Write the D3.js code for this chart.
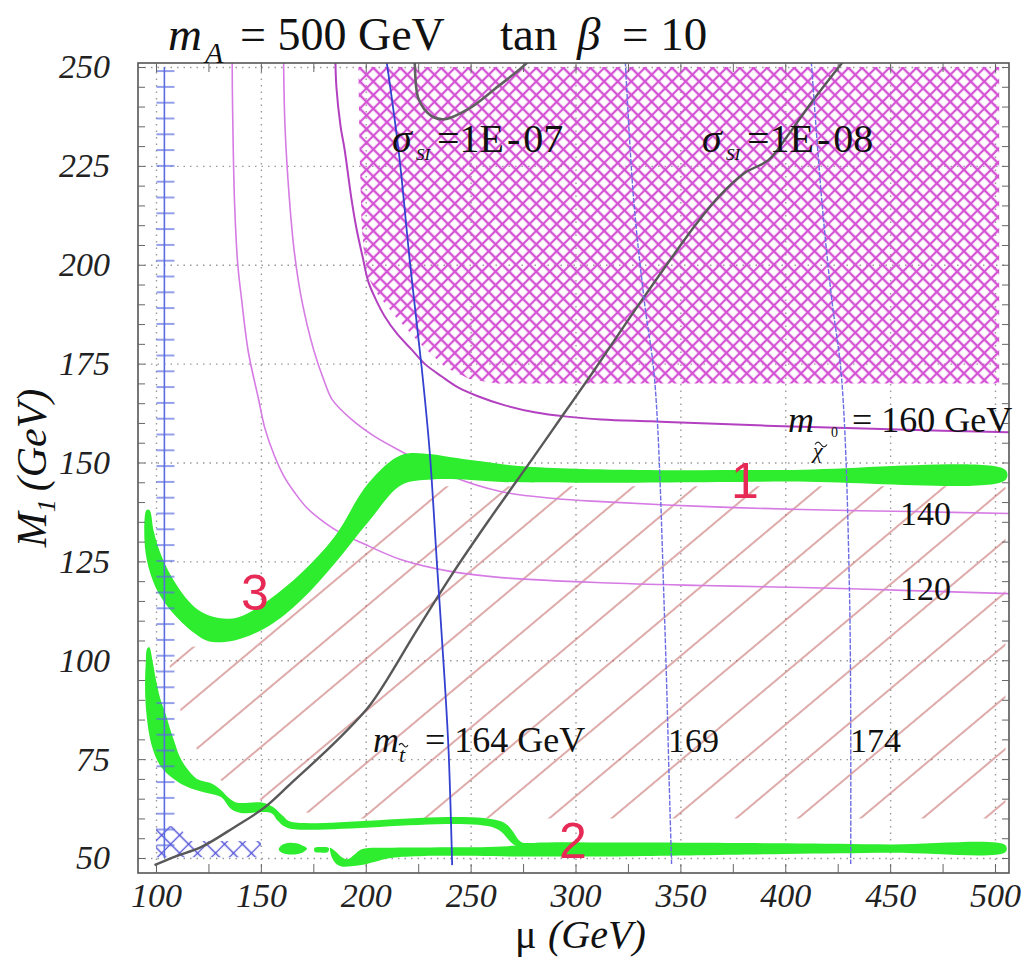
<!DOCTYPE html>
<html>
<head>
<meta charset="utf-8">
<script src="https://cdn.jsdelivr.net/npm/d3@7"></script>
<style>
body { margin: 0; background: #fff; }
</style>
</head>
<body>
<div id="chart"></div>
<script>
////////////////////////////////////////////////////////////////////////
// data, all in (mu, M1) GeV

let xTicks = [100, 150, 200, 250, 300, 350, 400, 450, 500];
let yTicks = [50, 75, 100, 125, 150, 175, 200, 225, 250];

// neutralino mass contours (120, 140, 160 GeV)
let chi120 = [[136.3,253],[136.5,240],[137.5,215],[139,200],[140.8,191.3],[144,178],[148.9,166],[152,158.5],
  [156.6,151.5],[161,146.5],[166.1,142.4],[172,138.5],[180.4,134.8],[188,132.2],[198,129.7],[217,125.4],
  [240.9,122.4],[264.7,120.9],[312.4,119.6],[360,118.9],[407.8,118.4],[460,117.6],[509,116.8]];
let chi140 = [[160.8,253],[161.5,235],[163.6,216.6],[166,203],[169.4,191.3],[175.1,178.6],[180.4,170.3],
  [184,165.9],[193.2,160.9],[204.2,156.6],[217,152.8],[240.9,146.5],[264.7,142.6],[290,140.9],[312.4,140.1],
  [360.1,138.9],[407.8,138.1],[460,137.6],[509,137.1]];
let chi160 = [[185.5,253],[186,245],[188,235],[189.9,229.2],[193.2,216.6],[195.6,209.1],[198.5,202],[201.3,195.6],
  [205,191],[209,187],[215,182.5],[221.8,178.6],[228,175],[236.1,171.8],[244,169],[253.8,166.7],[266,164.5],
  [280.5,162.7],[296,161.6],[312.4,160.9],[336,160.4],[360.1,159.9],[403,159.1],[450,158.4],[509,157.6]];

// stop mass contours (164, 169, 174 GeV)
let stop164 = [[209.5,253],[215.6,229.2],[221,201],[226.6,174.3],[230.4,153.3],[234,124],[237.6,95.1],[239.5,77],[241.2,48.2]];
let stop169 = [[323.6,253],[327.7,216.6],[333,190],[337.7,171.1],[342.5,110.2],[344.9,64.7],[345.8,48.5]];
let stop174 = [[412.2,253],[417.4,216.4],[422,192],[426.9,171.1],[430.7,115.3],[431.2,48.5]];

// sigma_SI contours
let sigma8 = [[99.3,48.2],[108.8,50.3],[121.7,52.8],[137.4,57.8],[151.3,62.6],[164.6,69],[185.1,79.1],[201.3,88.2],
  [210,95],[223,106.4],[241,121.6],[259.5,136],[279,150.6],[294,162],[309,173.4],[330,189.8],
  [358,210.6],[369,217.6],[380.6,223.2],[392.1,226.5],[400.7,232.3],[412.6,241.1],[430,253]];
let sigma7 = [[223,253],[223.3,251.3],[225.2,241.9],[231.4,237.6],[237.6,236.8],[249,239.4],[261.4,244.4],[277.6,251.5],[279,253]];

// green band 3 -> 1: convex side, then concave side (tip to right end)
let bandAOuter = [[95.5,138],[94.5,130.4],[96.4,123.6],[101.2,117],[108.8,111.5],[118.4,106.8],[125,104.8],
  [137.4,105],[153.6,108.6],[169.4,115.3],[185.1,124.4],[201.3,135],[217,144.3],[231.4,145.7],[250,145.6],
  [265,145.1],[300,144.9],[400,145.2],[505,145.6]];
let bandAInner = [[96.9,138],[98.8,132.9],[101.2,128.4],[104.5,124.1],[109.3,119.5],[115.5,115],[121.7,112.2],
  [129.8,110.7],[139.3,110.9],[153.6,115.2],[169.4,122.1],[185.1,131.2],[201.3,144.8],[217,151.9],[231.4,152.1],
  [240,151.4],[255,150.3],[273,149.1],[300,148.4],[330,148.1],[400,148.1],[505,148.1]];

// band 2, upper branch edges
let bandBRight = [[96.8,103.3],[98.3,100],[100,95],[102.2,90],[104.4,86.7],[106.5,83],[108.7,79.5],[111,76],
  [114.5,72.8],[119.5,70],[125.7,69],[130.5,67.4],[135.2,65],[138.6,64],[151,64],[155.8,62.9],[160.6,60.6],
  [164,59.2],[264.8,59.2],[274.3,54],[280,53.6]];
let bandBLeft = [[95.8,103],[95.1,99],[94.8,95],[94.9,90.5],[95.4,86.7],[96.5,82],[98.2,78],[100.5,74.8],
  [103.5,72.3],[110.5,69.2],[116.7,67.6],[124.8,66.4],[131,65.4],[135.8,62.4],[140.5,61.4],[154.8,61.4],
  [158.1,59.4],[162.8,57.6],[261.4,57.6],[270.9,53.3],[280,52.3]];

// band 2, lower pieces near M1 = 50
let blob1 = [[158.5,52.2],[160,53.3],[163,53.8],[167,53.7],[170,53.1],[172,52.4],[170,51.4],[166,50.9],[162,51],[159.5,51.5]];
let blob2 = [[175.6,52.6],[179,52.8],[182.3,52.6],[182,51.5],[178,51.4],[175.6,51.6]];
let bandCUpper = [[183,52.6],[185.5,51.7],[188.6,50.2],[191.5,49.7],[194.5,50.8],[198,52.2],[210,52.6],[240,52.7],
  [268,53],[280,53.8],[320,53.9],[400,53.7],[450,53.4],[505,53.2]];
let bandCLower = [[183,51.8],[184,50],[186,48.5],[189,47.8],[193,47.9],[198,48.2],[204,49],[212,50],[228,50.5],
  [270,50.4],[320,50.4],[400,51],[450,51.3],[505,51.5]];

// hatched regions
let redHatchRegion = [[106.5,97],[107,103.3],[120,103.5],[128,103],[137,103.4],[146,105.6],[154,107.8],[162,110.8],
  [170,114.3],[178,118.3],[185,122.6],[193,128],[201,133],[209,138],[217,142.3],[226,144],[240,144],
  [505,144],[505,60],[184,60],[162,62.8],[139,66.5],[125,72],[114,83]];
let pinkHatchRegion = [[196.5,250],[502,250],[502,170],[263,170],[250,171],[238,174],[226,180],[214,187],
  [205,193],[201,197],[199,204],[198,210],[197,230]];
let blueXRegion = [[100,50.2],[100,58],[111,58],[116,54.3],[150,54.3],[150,50.2]];
let lepStrip = {mu: 104, lo: 100.2, hi: 108.8, m1: [50, 250]};

////////////////////////////////////////////////////////////////////////
// svg and scales

let width = 1036, height = 962;
let frame = {left: 138, right: 1009, top: 63, bottom: 873};
let serif = "Liberation Serif";

let svg = d3.select("#chart").append("svg")
  .attr("width", width).attr("height", height)
  .attr("font-family", serif);

svg.append("rect").attr("width", width).attr("height", height).attr("fill", "#fff");

let x = d3.scaleLinear().domain([100, 500]).range([156, 995]);
let y = d3.scaleLinear().domain([50, 250]).range([858, 67]);

let line = d3.line().x(d => x(d[0])).y(d => y(d[1])).curve(d3.curveCatmullRom.alpha(0.5));
let poly = d3.line().x(d => x(d[0])).y(d => y(d[1]));
let smoothPoly = d3.line().x(d => x(d[0])).y(d => y(d[1])).curve(d3.curveCatmullRomClosed.alpha(0.5));

let defs = svg.append("defs");
defs.append("clipPath").attr("id", "frameClip")
  .append("rect")
  .attr("x", frame.left).attr("y", frame.top)
  .attr("width", frame.right - frame.left).attr("height", frame.bottom - frame.top);

// grid-like patterns rotated for the hatchings
function gridPattern(id, size, angle, color, w) {
  defs.append("pattern").attr("id", id)
    .attr("patternUnits", "userSpaceOnUse")
    .attr("width", size).attr("height", size)
    .attr("patternTransform", "rotate(" + angle + ")")
    .append("path")
    .attr("d", "M0," + size / 2 + "H" + size + "M" + size / 2 + ",0V" + size)
    .attr("stroke", color).attr("stroke-width", w).attr("fill", "none");
}
gridPattern("pinkX", 9.6, 45, "#d452d4", 2.2);
gridPattern("blueX", 12.7, 45, "#5050d8", 1.3);

defs.append("pattern").attr("id", "redHatch")
  .attr("patternUnits", "userSpaceOnUse")
  .attr("width", 10).attr("height", 40)
  .attr("patternTransform", "rotate(-40)")
  .append("path").attr("d", "M0,20H10")
  .attr("stroke", "#bd5555").attr("stroke-width", 1);

defs.append("pattern").attr("id", "lepTicks")
  .attr("patternUnits", "userSpaceOnUse")
  .attr("width", 20).attr("height", 15.8)
  .append("path").attr("d", "M0,7.9H20")
  .attr("stroke", "#5b6be0").attr("stroke-width", 1.3);

let plot = svg.append("g").attr("clip-path", "url(#frameClip)");

////////////////////////////////////////////////////////////////////////
// grid lines

let gridX = plot.append("g")
  .attr("transform", "translate(0," + frame.bottom + ")")
  .call(d3.axisBottom(x).tickValues(xTicks).tickSize(-(frame.bottom - frame.top)).tickFormat(""));
let gridY = plot.append("g")
  .attr("transform", "translate(" + frame.left + ",0)")
  .call(d3.axisLeft(y).tickValues(yTicks).tickSize(-(frame.right - frame.left)).tickFormat(""));
[gridX, gridY].forEach(function(g) {
  g.select(".domain").remove();
  g.selectAll("line").attr("stroke", "#9a9a9a").attr("stroke-width", 1.4).attr("stroke-dasharray", "1.5,5");
});

////////////////////////////////////////////////////////////////////////
// hatched regions

plot.append("path").attr("d", poly(redHatchRegion) + "Z").attr("fill", "url(#redHatch)");
plot.append("path").attr("d", poly(pinkHatchRegion) + "Z").attr("fill", "url(#pinkX)");
plot.append("path").attr("d", poly(blueXRegion) + "Z").attr("fill", "url(#blueX)");

// neutralino mass contours
plot.selectAll(".chi")
  .data([chi120, chi140, chi160]).enter()
  .append("path").attr("class", "chi")
  .attr("d", line).attr("fill", "none")
  .attr("stroke", (d, i) => i === 2 ? "#b240c0" : "#d67be4")
  .attr("stroke-width", (d, i) => i === 2 ? 2 : 1.6);

// green bands
let green = "#2eec2e";
plot.append("path").attr("d", smoothPoly(bandAOuter.concat(bandAInner.slice().reverse()))).attr("fill", green);
plot.append("path").attr("d", smoothPoly(bandBRight.concat(bandBLeft.slice().reverse()))).attr("fill", green);
plot.append("path").attr("d", smoothPoly(bandCUpper.concat(bandCLower.slice().reverse()))).attr("fill", green);
plot.append("path").attr("d", smoothPoly(blob1)).attr("fill", green);
plot.append("path").attr("d", smoothPoly(blob2)).attr("fill", green);

// sigma_SI contours
plot.append("path").attr("d", line(sigma8)).attr("fill", "none")
  .attr("stroke", "#585858").attr("stroke-width", 2.4);
plot.append("path").attr("d", line(sigma7)).attr("fill", "none")
  .attr("stroke", "#606060").attr("stroke-width", 2.6);

// stop mass contours
plot.append("path").attr("d", line(stop164)).attr("fill", "none")
  .attr("stroke", "#3340d0").attr("stroke-width", 1.8);
plot.selectAll(".stopLight")
  .data([stop169, stop174]).enter()
  .append("path").attr("class", "stopLight")
  .attr("d", line).attr("fill", "none")
  .attr("stroke", "#6c6ce6").attr("stroke-width", 1.4).attr("stroke-dasharray", "5,1.5");

// LEP chargino strip with cross ticks
plot.append("rect")
  .attr("x", x(lepStrip.lo)).attr("width", x(lepStrip.hi) - x(lepStrip.lo))
  .attr("y", y(lepStrip.m1[1])).attr("height", y(lepStrip.m1[0]) - y(lepStrip.m1[1]))
  .attr("fill", "url(#lepTicks)");
plot.append("line")
  .attr("x1", x(lepStrip.mu)).attr("x2", x(lepStrip.mu))
  .attr("y1", y(lepStrip.m1[1])).attr("y2", y(lepStrip.m1[0]))
  .attr("stroke", "#5b6be0").attr("stroke-width", 1.6);

////////////////////////////////////////////////////////////////////////
// frame, ticks and labels

svg.append("rect")
  .attr("x", frame.left).attr("y", frame.top)
  .attr("width", frame.right - frame.left).attr("height", frame.bottom - frame.top)
  .attr("fill", "none").attr("stroke", "#555").attr("stroke-width", 1.6);

let xMinor = d3.range(100, 501, 25);
let yMinor = d3.range(50, 251, 5);
let tickGroups = [
  svg.append("g").attr("transform", "translate(0," + frame.bottom + ")")
    .call(d3.axisBottom(x).tickValues(xMinor).tickSize(-9).tickFormat("")),
  svg.append("g").attr("transform", "translate(0," + frame.top + ")")
    .call(d3.axisTop(x).tickValues(xMinor).tickSize(-9).tickFormat("")),
  svg.append("g").attr("transform", "translate(" + frame.left + ",0)")
    .call(d3.axisLeft(y).tickValues(yMinor).tickSize(-7).tickFormat("")),
  svg.append("g").attr("transform", "translate(" + frame.right + ",0)")
    .call(d3.axisRight(y).tickValues(yMinor).tickSize(-7).tickFormat(""))
];
tickGroups.forEach(function(g) {
  g.select(".domain").remove();
  g.selectAll("line").attr("stroke", "#666").attr("stroke-width", 1);
});

let xLabels = svg.append("g").attr("transform", "translate(0," + frame.bottom + ")")
  .call(d3.axisBottom(x).tickValues(xTicks).tickSize(0).tickPadding(10));
let yLabels = svg.append("g").attr("transform", "translate(" + frame.left + ",0)")
  .call(d3.axisLeft(y).tickValues(yTicks).tickSize(0).tickPadding(28));
[xLabels, yLabels].forEach(function(g) {
  g.select(".domain").remove();
  g.attr("font-family", serif).attr("font-size", null);
  g.selectAll("text").attr("font-size", 34).attr("font-style", "italic").attr("fill", "#222");
});

// helper for positioned text pieces
function txt(px, py, s, size, italic, anchor) {
  return svg.append("text").attr("x", px).attr("y", py)
    .attr("font-family", serif)
    .attr("font-size", size)
    .attr("font-style", italic ? "italic" : "normal")
    .attr("text-anchor", anchor || "start")
    .attr("fill", "#111")
    .text(s);
}
// small tilde accent drawn as a path
function tilde(px, py, w) {
  let h = w / 4;
  svg.append("path")
    .attr("d", "M" + px + "," + (py + h / 2) + "q" + (w / 4) + "," + (-h * 1.6) + " " + (w / 2) + ",0" +
               "t" + (w / 2) + ",0")
    .attr("fill", "none").attr("stroke", "#222").attr("stroke-width", 1.1);
}

// title
txt(168, 50, "m", 47, true);
txt(205, 63, "A", 30, true);
txt(240, 50, "= 500 GeV", 46, false);
txt(500, 50, "tan", 47, false);
txt(577, 50, "\u03b2", 47, true);
txt(622, 50, "= 10", 47, false);

// axis titles
let yt = svg.append("text")
  .attr("transform", "translate(46,468) rotate(-90)")
  .attr("font-family", serif)
  .attr("text-anchor", "middle").attr("font-size", 42).attr("font-style", "italic").attr("fill", "#111");
yt.append("tspan").text("M");
yt.append("tspan").attr("font-size", 26).attr("dy", 9).text("1");
yt.append("tspan").attr("dy", -9).attr("dx", 8).text("(GeV)");

let xt = svg.append("text").attr("y", 948).attr("font-size", 40)
  .attr("font-family", serif).attr("fill", "#111");
xt.append("tspan").attr("x", 515).text("\u03bc");
xt.append("tspan").attr("x", 548).attr("font-style", "italic").text("(GeV)");

// sigma labels
function sigmaLabel(px, val) {
  txt(px, 152, "\u03c3", 40, true);
  txt(px + 24, 160, "SI", 17, true);
  let t = txt(px + 45, 152, "=1E", 40, false);
  t.append("tspan").attr("dx", 3).text("-");
  t.append("tspan").attr("dx", 3).text(val);
}
sigmaLabel(392, "07");
sigmaLabel(702, "08");

// neutralino label
txt(788, 432, "m", 36, true);
txt(813, 458, "\u03c7", 22, true);
tilde(815, 443, 12);
txt(831, 437, "0", 14, false);
txt(852, 432, "= 160 GeV", 36, false);
txt(900, 525, "140", 34, false);
txt(900, 600, "120", 34, false);

// stop label
txt(373, 752, "m", 36, true);
txt(399, 762, "t", 22, true);
tilde(399, 744, 9);
txt(425, 752, "= 164 GeV", 36, false);
txt(668, 752, "169", 34, false);
txt(850, 752, "174", 34, false);

// region numbers
[["1", 745, 498], ["2", 573, 858], ["3", 255, 610]].forEach(function(d) {
  svg.append("text").attr("x", d[1]).attr("y", d[2])
    .attr("text-anchor", "middle")
    .attr("font-family", "Liberation Sans")
    .attr("font-size", 50).attr("fill", "#e62a55")
    .text(d[0]);
});
</script>
</body>
</html>
